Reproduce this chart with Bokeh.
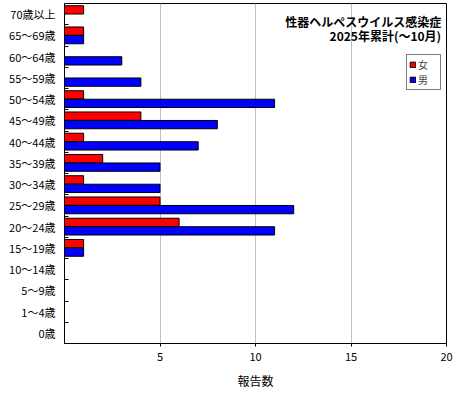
from bokeh.plotting import figure
from bokeh.models import FixedTicker, Range1d, Label, Legend, LegendItem, ColumnDataSource
from bokeh.embed import file_html
from bokeh.resources import INLINE

ages = ["0歳", "1～4歳", "5～9歳", "10～14歳", "15～19歳", "20～24歳", "25～29歳",
        "30～34歳", "35～39歳", "40～44歳", "45～49歳", "50～54歳", "55～59歳",
        "60～64歳", "65～69歳", "70歳以上"]
female = [0, 0, 0, 0, 1, 6, 5, 1, 2, 1, 4, 1, 0, 0, 1, 1]
male = [0, 0, 0, 0, 1, 11, 12, 5, 5, 7, 8, 11, 4, 3, 1, 0]
x_ticks = [5, 10, 15, 20]
title_lines = ["性器ヘルペスウイルス感染症", "2025年累計(～10月)"]

FONT = "Noto Sans CJK JP"

pos = list(range(len(ages)))
src = ColumnDataSource(dict(
    y_f=[i + 0.2 for i in pos], y_m=[i - 0.2 for i in pos],
    female=female, male=male))

p = figure(frame_width=382, frame_height=340, output_backend="svg",
           toolbar_location=None, x_range=Range1d(0, 20),
           y_range=Range1d(-0.5, len(ages) - 0.5),
           min_border_left=64, min_border_right=8, min_border_top=3,
           min_border_bottom=50)
p.outline_line_color = "black"
p.outline_line_alpha = 1
p.background_fill_color = "white"

rf = p.hbar(y="y_f", right="female", left=0, height=0.39, source=src,
            fill_color="#ff0000", line_color="black", line_width=1)
rm = p.hbar(y="y_m", right="male", left=0, height=0.39, source=src,
            fill_color="#0000ff", line_color="black", line_width=1)

# axes
p.xaxis.ticker = FixedTicker(ticks=x_ticks)
p.xaxis.major_tick_in = 0
p.xaxis.major_tick_out = 3
p.xaxis.minor_tick_line_color = None
p.xaxis.axis_label = "報告数"
p.xaxis.axis_label_text_font = FONT
p.xaxis.axis_label_text_font_style = "normal"
p.xaxis.axis_label_text_font_size = "12px"
p.xaxis.axis_label_standoff = 8
p.xaxis.major_label_text_font = FONT
p.xaxis.major_label_text_font_size = "11px"
p.xaxis.major_label_standoff = 6

p.yaxis.ticker = FixedTicker(ticks=pos, minor_ticks=[i + 0.5 for i in pos[:-1]])
p.yaxis.major_label_overrides = {i: a for i, a in zip(pos, ages)}
p.yaxis.major_tick_in = 0
p.yaxis.major_tick_out = 0
p.yaxis.minor_tick_in = 4
p.yaxis.minor_tick_out = 0
p.yaxis.major_label_text_font = FONT
p.yaxis.major_label_text_font_size = "11px"
p.yaxis.major_label_standoff = 9
for ax in (p.xaxis[0], p.yaxis[0]):
    ax.axis_line_color = "black"
    ax.major_label_text_color = "black"
    ax.axis_label_text_color = "black"

p.xgrid.ticker = FixedTicker(ticks=x_ticks[:-1])
p.xgrid.grid_line_color = "#c0c0c0"
p.ygrid.grid_line_color = None

# title inside the plot, right aligned
for k, t in enumerate(title_lines):
    p.add_layout(Label(x=19.72, y=14.63 - 0.64 * k, text=t, text_align="right",
                       text_baseline="middle", text_font=FONT,
                       text_font_size="12px", text_font_style="bold",
                       text_color="black"))

legend = Legend(items=[LegendItem(label="女", renderers=[rf]),
                       LegendItem(label="男", renderers=[rm])],
                location=(342, 253), glyph_width=7, glyph_height=7,
                label_standoff=2, padding=2, spacing=0, margin=0,
                label_text_font=FONT, label_text_font_size="10px",
                label_text_line_height=0.9, label_height=12,
                border_line_color="black", background_fill_alpha=1)
p.add_layout(legend)

open("out.html", "w").write(file_html(p, INLINE))
